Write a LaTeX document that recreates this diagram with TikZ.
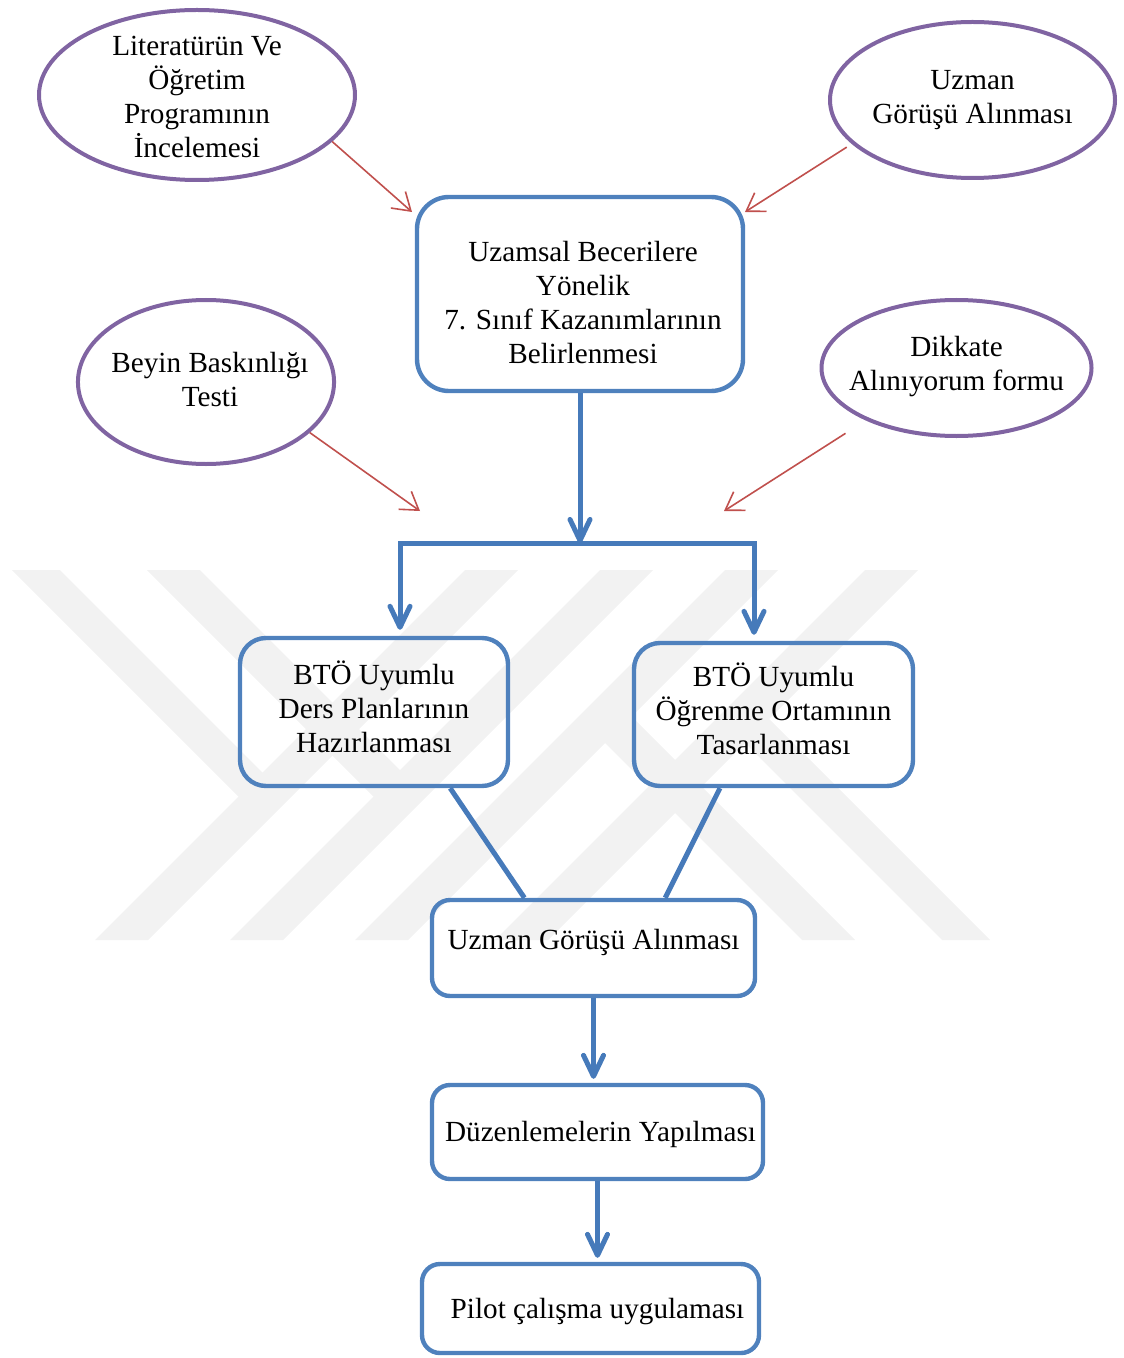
\documentclass[tikz,border=0pt]{standalone}
\usepackage{fontspec}
\setmainfont{Liberation Serif}
\usetikzlibrary{shapes.geometric,arrows.meta}

\definecolor{boxblue}{RGB}{79,129,189}
\definecolor{lineblue}{RGB}{70,122,186}
\definecolor{ovalpurple}{RGB}{128,100,162}
\definecolor{hintred}{RGB}{192,80,77}
\definecolor{wmark}{RGB}{242,242,242}

% text lines of a shape, moved up or down without changing its size
\newcommand{\steptext}[2]{\raisebox{#1}[\height][\depth]{\begin{tabular}{@{}c@{}}#2\end{tabular}}}

\begin{document}
\begin{tikzpicture}[x=0.5pt,y=-0.5pt,
    font=\fontsize{14.6}{17}\selectfont,
    oval/.style={ellipse,draw=ovalpurple,line width=2pt,inner sep=-6pt},
    stepbox/.style={rectangle,draw=boxblue,line width=2.2pt,inner sep=0pt},
    flow/.style={draw=lineblue,line width=2.5pt},
    flowtip/.style={-{Straight Barb[length=10.5pt,width=10pt,round]}},
    hint/.style={draw=hintred,line width=0.8pt,-{Straight Barb[length=8.5pt,width=11pt]}}]
  \useasboundingbox (0,0) rectangle (1123,1358);

% watermark in the background
  \fill[wmark] (95,940) -- (148,940) -- (518,570) -- (465,570) -- cycle;
  \fill[wmark] (230,940) -- (283,940) -- (653,570) -- (600,570) -- cycle;
  \fill[wmark] (355,940) -- (408,940) -- (778,570) -- (725,570) -- cycle;
  \fill[wmark] (495,940) -- (548,940) -- (918,570) -- (865,570) -- cycle;
  \fill[wmark] (12,570) -- (60,570) -- (275.5,785.5) -- (251.5,809.5) -- cycle;
  \fill[wmark] (147,570) -- (200,570) -- (413,783) -- (386.5,809.5) -- cycle;
  \fill[wmark] (802,940) -- (855,940) -- (618,703) -- (591.5,729.5) -- cycle;
  \fill[wmark] (942,940) -- (990,940) -- (755.5,705.5) -- (731.5,729.5) -- cycle;

% sources (ovals)
  \node[oval,minimum width=158pt,minimum height=85pt] (lit) at (197,95)
    {\steptext{-2.25pt}{Literatürün Ve\\Öğretim\\Programının\\İncelemesi}};
  \node[oval,minimum width=142.5pt,minimum height=78pt] (expert) at (972.5,100)
    {\steptext{0pt}{Uzman\\Görüşü Alınması}};
  \node[oval,minimum width=127pt,minimum height=82pt] (brain) at (206,382)
    {\steptext{-0.5pt}{\hspace*{4pt}Beyin Baskınlığı\\\hspace*{4pt}Testi}};
  \node[oval,minimum width=126.5pt,minimum height=68pt] (form) at (956.5,368)
    {\steptext{0.5pt}{Dikkate\\Alınıyorum formu}};

% steps
  \node[stepbox,rounded corners=16pt,minimum width=163pt,minimum height=97pt] (goal) at (580,294)
    {\steptext{-6pt}{\hspace*{3pt}Uzamsal Becerilere\\\hspace*{3pt}Yönelik\\\hspace*{3pt}7. Sınıf Kazanımlarının\\\hspace*{3pt}Belirlenmesi}};
  \node[stepbox,rounded corners=13pt,minimum width=134pt,minimum height=74pt] (plan) at (374,712)
    {\steptext{0.25pt}{BTÖ Uyumlu\\Ders Planlarının\\Hazırlanması}};
  \node[stepbox,rounded corners=13pt,minimum width=139.5pt,minimum height=71.5pt] (env) at (773.5,714.5)
    {\steptext{0.5pt}{BTÖ Uyumlu\\Öğrenme Ortamının\\Tasarlanması}};
  \node[stepbox,rounded corners=9pt,minimum width=161.5pt,minimum height=48pt] (review) at (593.5,948)
    {\steptext{2.5pt}{Uzman Görüşü Alınması}};
  \node[stepbox,rounded corners=9pt,minimum width=165.5pt,minimum height=47pt] (edit) at (597.5,1132)
    {\steptext{-1.5pt}{\hspace*{3pt}Düzenlemelerin Yapılması}};
  \node[stepbox,rounded corners=9pt,minimum width=168.5pt,minimum height=44.5pt] (pilot) at (590.5,1308.5)
    {\steptext{-1.5pt}{\hspace*{7pt}Pilot çalışma uygulaması}};

% red hints
  \coordinate (litend) at (412,212);
  \coordinate (expertend) at (745,212);
  \coordinate (brainend) at (420,511);
  \coordinate (formend) at (724,511);
  \draw[hint] (lit.-19) -- (litend);
  \draw[hint,shorten <=3pt] (expert.-160) -- (expertend);
  \draw[hint] (brain.-26) -- (brainend);
  \draw[hint,shorten <=12pt] (form.-150) -- (formend);

% main flow
  \coordinate (fork) at (580,543);
  \coordinate (forkL) at (400,543);
  \coordinate (forkR) at (754,543);
  \draw[flow,flowtip] (goal.south) -- (fork);
  \draw[flow,{Straight Barb[length=10.5pt,width=10pt,round]}-{Straight Barb[length=10.5pt,width=10pt,round]},
        shorten <=3pt,shorten >=3pt]
    (forkL |- plan.north) -- (forkL) -- (forkR) -- (forkR |- env.north);
  \draw[flow] (plan.-45) -- (review.144);
  \draw[flow] (env.-126) -- (review.35);
  \draw[flow,flowtip,shorten >=2pt] (review.south) -- (review.south |- edit.north);
  \draw[flow,flowtip,shorten >=2pt] (edit.south) -- (edit.south |- pilot.north);
\end{tikzpicture}
\end{document}
